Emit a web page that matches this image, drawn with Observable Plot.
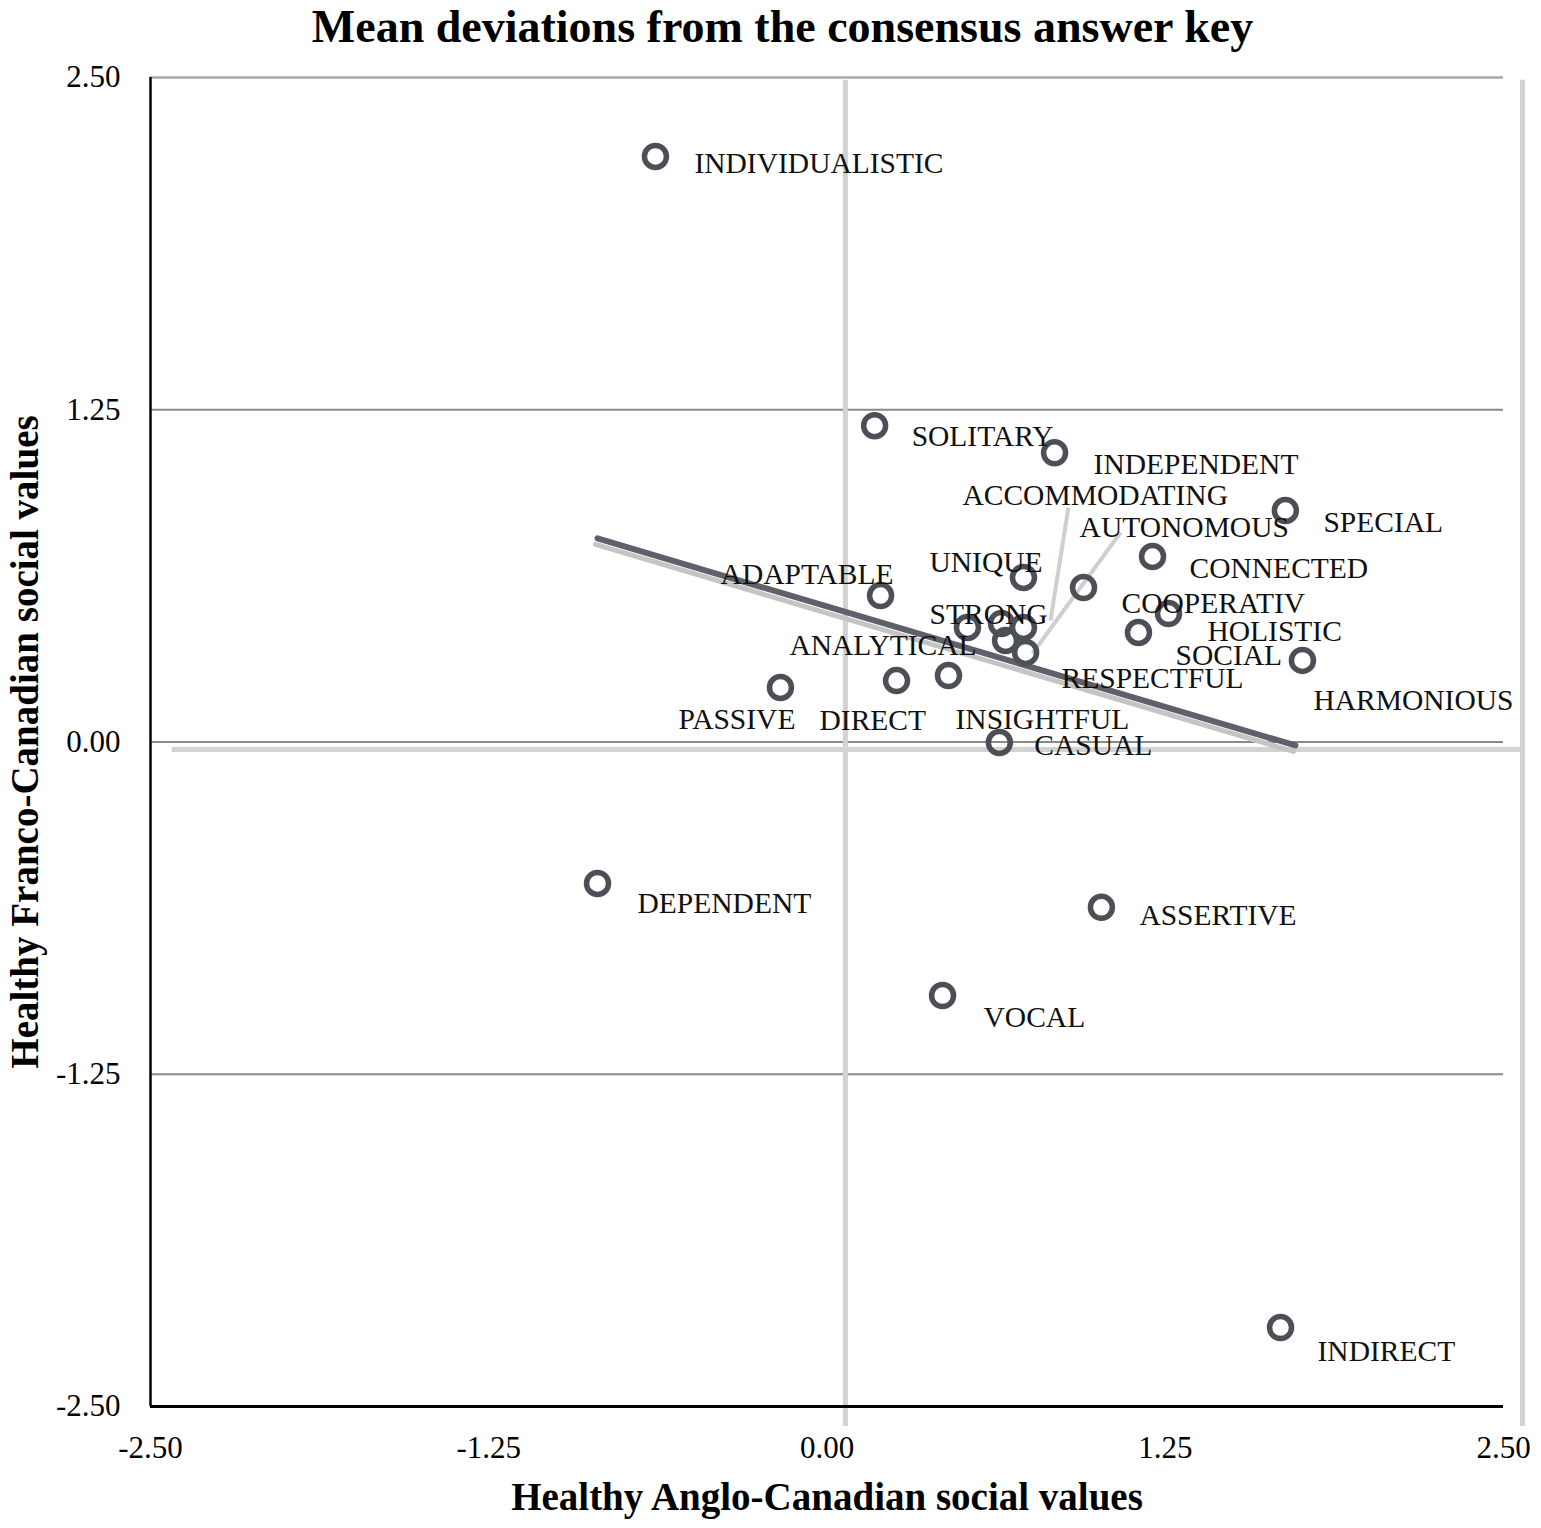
<!DOCTYPE html>
<html>
<head>
<meta charset="utf-8">
<script src="https://cdn.jsdelivr.net/npm/d3@7"></script>
<script src="https://cdn.jsdelivr.net/npm/@observablehq/plot@0.6"></script>
<style>
  html, body { margin: 0; padding: 0; background: #fff; }
  #title {
    width: 1541px; height: 58px; line-height: 54px;
    font-family: "Liberation Serif", "Times New Roman", serif;
    font-weight: bold; font-size: 46px; color: #000;
    text-align: center; box-sizing: border-box; padding-left: 24px;
    white-space: nowrap;
  }
  #chart svg { display: block; }
</style>
</head>
<body>
<div id="title">Mean deviations from the consensus answer key</div>
<div id="chart"></div>
<script>
// ---- data ----
const terms = ["INDIVIDUALISTIC","SOLITARY","INDEPENDENT","SPECIAL","CONNECTED","UNIQUE","SOCIAL","ADAPTABLE","COOPERATIV","HOLISTIC","STRONG","ANALYTICAL","ACCOMMODATING","RESPECTFUL","AUTONOMOUS","HARMONIOUS","PASSIVE","DIRECT","INSIGHTFUL","CASUAL","DEPENDENT","ASSERTIVE","VOCAL","INDIRECT"];
const anglo  = [-0.634, 0.176, 0.841, 1.694, 1.203, 0.726, 0.948, 0.198, 1.262, 1.151, 0.645, 0.519, 0.726, 0.660, 0.734, 1.757, -0.172, 0.257, 0.449, 0.637, -0.848, 1.014, 0.427, 1.676];
const franco = [2.203, 1.190, 1.088, 0.871, 0.698, 0.619, 0.581, 0.551, 0.483, 0.412, 0.446, 0.431, 0.431, 0.382, 0.337, 0.307, 0.205, 0.231, 0.250, -0.002, -0.532, -0.622, -0.954, -2.203];

const xTicks = [-2.5, -1.25, 0, 1.25, 2.5];
const yTicks = [-2.5, -1.25, 0, 1.25, 2.5];

// trend line end points
const trendX = [-0.848, 1.731];
const trendY = [0.766, -0.013];

// leader lines (label -> point)
const leaderTerms = ["ACCOMMODATING", "AUTONOMOUS"];
const leaderFromX = [0.892, 1.085];
const leaderFromY = [0.882, 0.788];
const leaderToX   = [0.826, 0.759];
const leaderToY   = [0.457, 0.333];

// light grey reference lines visible in the picture
const refVX = [0.068, 2.570];
const refVTop = 2.49, refVBottom = -2.575;
const refHY = [-0.028];
const refHLeft = -2.42, refHRight = 2.570;

const xTitle = "Healthy Anglo-Canadian social values";
const yTitle = "Healthy Franco-Canadian social values";

// ---- layout: label offsets in pixels (label start, vertical centre) ----
const labelOffset = {
  INDIVIDUALISTIC:[39,7], SOLITARY:[37,11], INDEPENDENT:[39,12], SPECIAL:[38,12],
  CONNECTED:[37,12], UNIQUE:[-94,-15], SOCIAL:[92,68], ADAPTABLE:[-160,-21],
  COOPERATIV:[-47,-10], HOLISTIC:[69,-1], STRONG:[-72,-9], ANALYTICAL:[-178,18],
  ACCOMMODATING:[-61,-132], RESPECTFUL:[56,38], AUTONOMOUS:[54,-125], HARMONIOUS:[11,40],
  PASSIVE:[-102,32], DIRECT:[-77,40], INSIGHTFUL:[7,44], CASUAL:[35,3],
  DEPENDENT:[40,20], ASSERTIVE:[38,8], VOCAL:[41,22], INDIRECT:[37,24]
};

const points = terms.map((t, i) => ({term: t, x: anglo[i], y: franco[i]}));
const trend = trendX.map((x, i) => ({x, y: trendY[i]}));
const leaders = leaderTerms.map((t, i) => ({x1: leaderFromX[i], y1: leaderFromY[i], x2: leaderToX[i], y2: leaderToY[i]}));

const FONT = '"Liberation Serif", "Times New Roman", serif';
const fmt = d => d.toFixed(2);

const labelMarks = points.map(p => {
  const o = labelOffset[p.term] || [36, 10];
  return Plot.text([p], {x: "x", y: "y", text: "term", dx: o[0], dy: o[1],
    textAnchor: "start", lineAnchor: "middle", fontSize: 29.5, fill: "#111", fontFamily: FONT});
});

const chart = Plot.plot({
  width: 1541,
  height: 1470,
  marginLeft: 150,
  marginRight: 38,
  marginTop: 19,
  marginBottom: 122,
  x: {domain: [-2.5, 2.5]},
  y: {domain: [-2.5, 2.5]},
  style: {fontFamily: FONT, fontSize: "31px", color: "#000", background: "#fff", overflow: "visible"},
  marks: [
    // horizontal gridlines
    Plot.ruleY(yTicks.filter(v => v > -2.5 && v < 2.5), {x1: -2.5, x2: 2.5, stroke: "#8a8a8a", strokeWidth: 2.2}),
    Plot.ruleY(yTicks.filter(v => v === 2.5), {x1: -2.5, x2: 2.5, stroke: "#a8a8a8", strokeWidth: 2.5}),
    // light grey reference lines
    Plot.ruleX(refVX, {y1: refVBottom, y2: refVTop, stroke: "#d2d2d2", strokeWidth: 5}),
    Plot.ruleY(refHY, {x1: refHLeft, x2: refHRight, stroke: "#d2d2d2", strokeWidth: 5}),
    // axis lines
    Plot.ruleX([-2.5], {y1: -2.5, y2: 2.5, stroke: "#000", strokeWidth: 2.5}),
    Plot.ruleY([-2.5], {x1: -2.5, x2: 2.5, stroke: "#000", strokeWidth: 3}),
    // trend line (shadow + line)
    Plot.line(trend, {x: "x", y: "y", stroke: "#c4c4c4", strokeWidth: 5, dy: 6, dx: -2}),
    Plot.line(trend, {x: "x", y: "y", stroke: "#5e6169", strokeWidth: 6}),
    // leader lines
    Plot.link(leaders, {x1: "x1", y1: "y1", x2: "x2", y2: "y2", stroke: "#cfcfcf", strokeWidth: 4}),
    // points
    Plot.dot(points, {x: "x", y: "y", r: 11, stroke: "#4c4f56", strokeWidth: 5.5, fill: "none"}),
    // labels
    ...labelMarks,
    // axes
    Plot.axisX({ticks: xTicks, tickFormat: fmt, tickSize: 0, tickPadding: 29, fontSize: 31, label: null}),
    Plot.axisY({ticks: yTicks, tickFormat: fmt, tickSize: 0, tickPadding: 30, fontSize: 31, label: null}),
    // axis titles
    Plot.text([xTitle], {frameAnchor: "bottom", dy: 91, lineAnchor: "middle", textAnchor: "middle", fontSize: 39, fontWeight: "bold", fill: "#000"}),
    Plot.text([yTitle], {frameAnchor: "left", dx: -125, rotate: -90, lineAnchor: "middle", textAnchor: "middle", fontSize: 39, fontWeight: "bold", fill: "#000"})
  ]
});
document.getElementById("chart").appendChild(chart);
</script>
</body>
</html>
